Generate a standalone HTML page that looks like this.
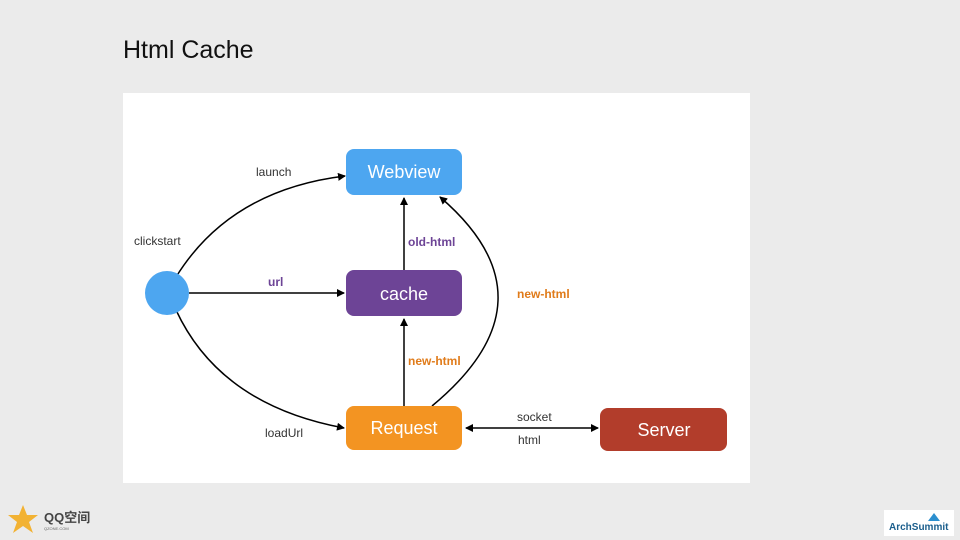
<!DOCTYPE html>
<html><head><meta charset="utf-8"><style>
body{margin:0;width:960px;height:540px;background:#ebebeb;position:relative;overflow:hidden;font-family:"Liberation Sans",sans-serif}
.t{position:absolute;left:123px;top:36px;font-size:25px;color:#111}
</style></head><body>
<div class="t">Html Cache</div>
<svg width="960" height="540" style="position:absolute;left:0;top:0">
<defs><marker id="a" markerWidth="8" markerHeight="8" refX="7" refY="4" orient="auto" markerUnits="userSpaceOnUse"><path d="M0,0L8,4L0,8z" fill="#000"/></marker>
<marker id="b" markerWidth="8" markerHeight="8" refX="1" refY="4" orient="auto" markerUnits="userSpaceOnUse"><path d="M8,0L0,4L8,8z" fill="#000"/></marker></defs>
<rect x="123" y="93" width="627" height="390" fill="#fff"/>
<g fill="none" stroke="#000" stroke-width="1.5">
<path d="M176,277 Q230,190 345,176" marker-end="url(#a)"/>
<path d="M189,293 L344,293" marker-end="url(#a)"/>
<path d="M176,310 Q220,405 344,428" marker-end="url(#a)"/>
<path d="M404,270 L404,198" marker-end="url(#a)"/>
<path d="M404,406 L404,319" marker-end="url(#a)"/>
<path d="M432,406 Q560,300 440,197" marker-end="url(#a)"/>
<path d="M466,428 L598,428" marker-start="url(#b)" marker-end="url(#a)"/>
</g>
<circle cx="167" cy="293" r="22" fill="#4da6f0"/>
<rect x="346" y="149" width="116" height="46" rx="8" fill="#4da6f0"/>
<rect x="346" y="270" width="116" height="46" rx="8" fill="#6d4496"/>
<rect x="346" y="406" width="116" height="44" rx="8" fill="#f39422"/>
<rect x="600" y="408" width="127" height="43" rx="8" fill="#b23d2b"/>
<g font-family="Liberation Sans,sans-serif" text-anchor="middle" fill="#fff" font-size="18">
<text x="404" y="178">Webview</text><text x="404" y="300">cache</text>
<text x="404" y="434">Request</text><text x="664" y="436">Server</text></g>
<g font-family="Liberation Sans,sans-serif" font-size="12" fill="#333">
<text x="256" y="176">launch</text><text x="134" y="245">clickstart</text>
<text x="265" y="437">loadUrl</text><text x="517" y="421">socket</text><text x="518" y="444">html</text></g>
<g font-family="Liberation Sans,sans-serif" font-size="12" font-weight="bold">
<text x="268" y="286" fill="#6d4496">url</text>
<text x="408" y="246" fill="#6d4496">old-html</text>
<text x="408" y="365" fill="#e07b1a">new-html</text>
<text x="517" y="298" fill="#e07b1a">new-html</text></g>
<polygon points="23,505 27,515 38,515 29,522 33,533 23,526 13,533 17,522 8,515 19,515" fill="#f2b233"/>
<text x="44" y="522" font-size="13" font-weight="bold" fill="#444" font-family="Liberation Sans,Noto Sans CJK SC,sans-serif">QQ空间</text>
<text x="44" y="530" font-size="4" fill="#666">QZONE.COM</text>
<rect x="884" y="510" width="70" height="26" fill="#fff"/>
<polygon points="934,513 940,521 928,521" fill="#2b8fcf"/>
<text x="889" y="530" font-size="10" font-weight="bold" fill="#1b5e8c">ArchSummit</text>
</svg>
</body></html>
